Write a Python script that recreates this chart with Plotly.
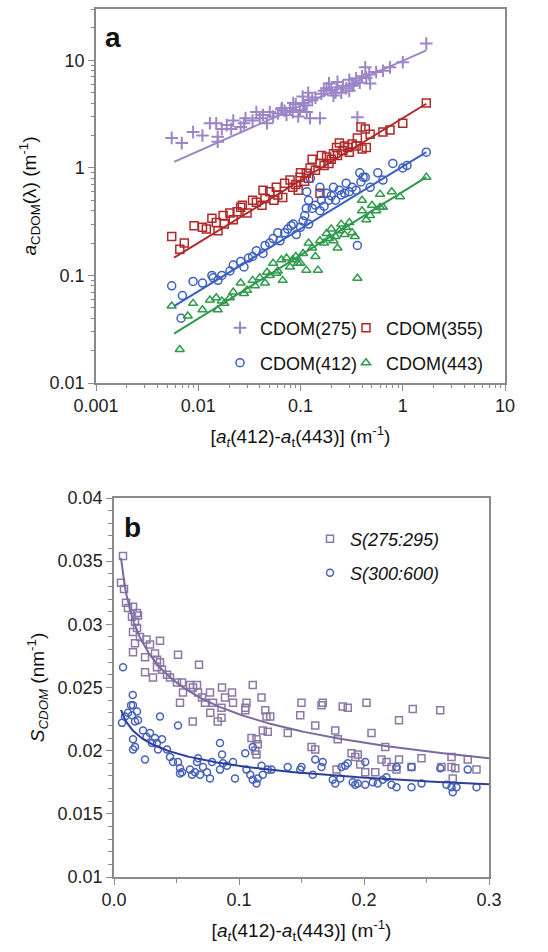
import numpy as np
import plotly.graph_objects as go

# ---------------- Panel a data (log-log) ----------------
a275_x = [0.0055, 0.0069, 0.0089, 0.011, 0.013, 0.015, 0.0155, 0.0155, 0.017, 0.019, 0.021, 0.022, 0.026, 0.028,
          0.029, 0.034, 0.037, 0.04, 0.043, 0.047, 0.05, 0.054, 0.06, 0.065, 0.066, 0.07, 0.073, 0.079, 0.084, 0.085,
          0.09, 0.095, 0.099, 0.105, 0.106, 0.11, 0.115, 0.119, 0.12, 0.124, 0.13, 0.14, 0.155, 0.16, 0.17, 0.18,
          0.19, 0.2, 0.21, 0.22, 0.225, 0.23, 0.25, 0.26, 0.28, 0.3, 0.3, 0.32, 0.33, 0.35, 0.36, 0.38, 0.4, 0.43,
          0.44, 0.47, 0.48, 0.55, 0.64, 0.75, 1.0, 1.7]
a275_y = [1.9, 1.7, 2.15, 2.0, 2.6, 2.6, 1.95, 1.75, 2.3, 2.5, 2.3, 2.75, 2.4, 2.6, 2.9, 2.75, 3.3, 2.9, 3.1, 2.6,
          3.3, 3.0, 3.2, 3.5, 3.6, 3.4, 3.1, 3.6, 3.3, 4.0, 3.9, 3.0, 3.45, 4.6, 4.0, 3.8, 3.3, 5.0, 4.3, 2.9, 4.25,
          4.5, 2.9, 4.9, 5.2, 5.5, 6.1, 5.3, 4.7, 5.0, 5.6, 6.3, 5.0, 5.8, 5.5, 6.6, 5.2, 5.8, 6.0, 6.8, 2.95, 6.2,
          7.1, 8.6, 6.9, 7.4, 6.1, 7.8, 8.0, 8.6, 9.6, 14.3]

a355_x = [0.0055, 0.0066, 0.0073, 0.0091, 0.011, 0.012, 0.0136, 0.015, 0.0156, 0.0175, 0.018, 0.0204, 0.022,
          0.024, 0.026, 0.027, 0.030, 0.034, 0.037, 0.042, 0.043, 0.045, 0.05, 0.055, 0.058, 0.06, 0.067, 0.07,
          0.079, 0.084, 0.09, 0.095, 0.099, 0.1, 0.11, 0.114, 0.12, 0.124, 0.13, 0.14, 0.155, 0.155, 0.16, 0.17,
          0.18, 0.19, 0.2, 0.21, 0.225, 0.23, 0.24, 0.26, 0.27, 0.29, 0.3, 0.32, 0.35, 0.36, 0.39, 0.4, 0.43, 0.44,
          0.48, 0.64, 0.75, 1.0, 1.7]
a355_y = [0.23, 0.175, 0.2, 0.29, 0.28, 0.27, 0.34, 0.31, 0.26, 0.36, 0.3, 0.38, 0.33, 0.39, 0.43, 0.45, 0.38,
          0.5, 0.48, 0.45, 0.62, 0.52, 0.6, 0.5, 0.66, 0.56, 0.53, 0.72, 0.77, 0.66, 0.7, 0.62, 0.82, 0.9, 0.75,
          0.89, 0.8, 1.0, 1.2, 0.95, 0.58, 1.1, 1.3, 1.05, 1.26, 1.1, 1.2, 1.35, 1.55, 1.3, 1.7, 1.45, 1.6, 1.55,
          1.4, 1.67, 1.6, 1.9, 2.4, 1.5, 2.3, 1.55, 2.05, 2.15, 2.25, 2.6, 4.0]

a412_x = [0.0055, 0.0068, 0.007, 0.0089, 0.011, 0.0136, 0.014, 0.0156, 0.017, 0.0204, 0.022, 0.026, 0.028, 0.031,
          0.034, 0.037, 0.043, 0.045, 0.05, 0.054, 0.06, 0.063, 0.07, 0.075, 0.081, 0.085, 0.091, 0.1, 0.106, 0.11,
          0.114, 0.115, 0.12, 0.12, 0.125, 0.13, 0.14, 0.155, 0.155, 0.16, 0.17, 0.18, 0.19, 0.2, 0.21, 0.22, 0.24,
          0.25, 0.27, 0.28, 0.3, 0.32, 0.35, 0.36, 0.38, 0.39, 0.41, 0.43, 0.48, 0.57, 0.64, 0.8, 1.0, 1.1, 1.7]
a412_y = [0.08, 0.04, 0.065, 0.088, 0.085, 0.1, 0.095, 0.09, 0.1, 0.11, 0.125, 0.135, 0.12, 0.145, 0.15, 0.17,
          0.16, 0.19, 0.2, 0.22, 0.25, 0.21, 0.25, 0.27, 0.29, 0.3, 0.24, 0.28, 0.32, 0.36, 0.42, 0.6, 0.3, 0.5,
          0.8, 0.42, 0.45, 0.4, 0.66, 0.5, 0.44, 0.58, 0.5, 0.55, 0.66, 0.5, 0.62, 0.56, 0.58, 0.72, 0.6, 0.66,
          0.62, 0.19, 0.9, 0.74, 0.82, 0.82, 0.66, 0.9, 0.77, 1.1, 1.0, 1.05, 1.4]

a443_x = [0.0055, 0.0066, 0.0079, 0.0089, 0.011, 0.013, 0.015, 0.0155, 0.017, 0.018, 0.0204, 0.022, 0.026, 0.028,
          0.03, 0.034, 0.036, 0.04, 0.045, 0.047, 0.05, 0.054, 0.058, 0.06, 0.065, 0.067, 0.073, 0.079, 0.084, 0.09,
          0.094, 0.1, 0.106, 0.114, 0.12, 0.13, 0.14, 0.148, 0.155, 0.17, 0.18, 0.19, 0.2, 0.21, 0.22, 0.23, 0.24,
          0.25, 0.27, 0.28, 0.3, 0.32, 0.34, 0.36, 0.4, 0.4, 0.44, 0.48, 0.5, 0.55, 0.6, 0.6, 0.64, 0.78, 0.94, 1.7]
a443_y = [0.052, 0.0205, 0.042, 0.055, 0.048, 0.059, 0.062, 0.048, 0.058, 0.055, 0.062, 0.07, 0.085, 0.068, 0.073,
          0.09, 0.08, 0.095, 0.085, 0.107, 0.1, 0.13, 0.105, 0.11, 0.14, 0.09, 0.145, 0.12, 0.14, 0.15, 0.13, 0.13,
          0.16, 0.112, 0.2, 0.18, 0.15, 0.112, 0.21, 0.2, 0.245, 0.22, 0.27, 0.21, 0.23, 0.18, 0.26, 0.3, 0.24,
          0.28, 0.31, 0.25, 0.23, 0.094, 0.4, 0.5, 0.33, 0.36, 0.45, 0.4, 0.43, 0.57, 0.43, 0.6, 0.54, 0.82]

# power-law fits y = c * x^k (panel a)
a_fit_names = ["CDOM(275)", "CDOM(355)", "CDOM(412)", "CDOM(443)"]
a_fit_coef = [9.9, 2.9, 1.03, 0.6]
a_fit_exp = [0.42, 0.58, 0.58, 0.59]
a_fit_xrange = [0.0058, 1.7]

# ---------------- Panel b data (linear) ----------------
s275_x = [0.0072, 0.0056, 0.008, 0.0096, 0.0112, 0.0144, 0.0152, 0.0168, 0.0184, 0.0152, 0.0168, 0.0152, 0.0192,
          0.0184, 0.0208, 0.026, 0.0288, 0.0368, 0.0248, 0.0248, 0.0328, 0.0344, 0.0312, 0.0368, 0.0384, 0.0344,
          0.0424, 0.0448, 0.0512, 0.0504, 0.0544, 0.0528, 0.0552, 0.0608, 0.0632, 0.0664, 0.0672, 0.068, 0.0704,
          0.0728, 0.0768, 0.0792, 0.0864, 0.0888, 0.0944, 0.0952, 0.105, 0.106, 0.111, 0.118, 0.150, 0.167, 0.166,
          0.183, 0.187, 0.202, 0.239, 0.261,
          0.086, 0.083, 0.086, 0.063, 0.077, 0.105, 0.110, 0.114, 0.115, 0.114, 0.113, 0.121, 0.122, 0.125, 0.119,
          0.123, 0.139, 0.149, 0.161, 0.158, 0.161, 0.177, 0.179, 0.178, 0.19, 0.193, 0.195, 0.197, 0.201, 0.206,
          0.209, 0.214, 0.217, 0.218, 0.222, 0.228, 0.228, 0.226, 0.238, 0.246, 0.262, 0.270, 0.270, 0.271, 0.273,
          0.283, 0.290]
s275_y = [0.0354, 0.0333, 0.0328, 0.0317, 0.0313, 0.0306, 0.0314, 0.0302, 0.0309, 0.0294, 0.0285, 0.0278, 0.0307,
          0.0297, 0.029, 0.0288, 0.0284, 0.0287, 0.0274, 0.0262, 0.0277, 0.0266, 0.0258, 0.027, 0.0264, 0.0272,
          0.026, 0.0258, 0.0276, 0.0254, 0.0254, 0.0238, 0.0246, 0.0252, 0.025, 0.0252, 0.0246, 0.0268, 0.0242,
          0.0238, 0.0246, 0.0238, 0.025, 0.0242, 0.0246, 0.0238, 0.0234, 0.0238, 0.0252, 0.0242, 0.0238, 0.0238,
          0.0236, 0.0235, 0.0234, 0.0238, 0.0233, 0.0232,
          0.0234, 0.0223, 0.0226, 0.0223, 0.023, 0.0232, 0.021, 0.0209, 0.0205, 0.0197, 0.02, 0.0232, 0.0227,
          0.0227, 0.0216, 0.0215, 0.0214, 0.0228, 0.022, 0.0203, 0.0201, 0.0216, 0.0209, 0.0185, 0.0198, 0.0195,
          0.0197, 0.0189, 0.0183, 0.0214, 0.0183, 0.0193, 0.0203, 0.0191, 0.0187, 0.0224, 0.0193, 0.0185, 0.0187,
          0.0194, 0.0187, 0.0195, 0.0187, 0.0178, 0.0186, 0.0193, 0.0185]

s300_x = [0.0072, 0.015, 0.0136, 0.0064, 0.0088, 0.0112, 0.0152, 0.0144, 0.0168, 0.0152, 0.0168, 0.0152, 0.0184,
          0.0192, 0.0248, 0.0232, 0.026, 0.0288, 0.0304, 0.0328, 0.0344, 0.0368, 0.0352, 0.0384, 0.0424, 0.0448,
          0.0472, 0.0512, 0.0512, 0.0528, 0.0544, 0.0528, 0.0608, 0.0624, 0.0648, 0.0664, 0.0672, 0.0688, 0.0712,
          0.0744, 0.0768, 0.0784, 0.0848, 0.0864, 0.0848, 0.0872, 0.0904, 0.0952, 0.0968, 0.105, 0.106, 0.109,
          0.111, 0.111, 0.114, 0.115, 0.118, 0.119, 0.123, 0.126, 0.139, 0.149, 0.150, 0.159, 0.161, 0.166, 0.167,
          0.175, 0.177, 0.181, 0.182, 0.185, 0.187, 0.191, 0.193, 0.195, 0.201, 0.201, 0.207, 0.211, 0.215, 0.218,
          0.222, 0.226, 0.226, 0.238, 0.238, 0.246, 0.261, 0.266, 0.270, 0.271, 0.274, 0.283, 0.290]
s300_y = [0.0266, 0.0244, 0.0236, 0.0222, 0.0227, 0.023, 0.0236, 0.0228, 0.0223, 0.0209, 0.0203, 0.0201, 0.0231,
          0.0224, 0.0193, 0.0216, 0.0211, 0.0214, 0.0206, 0.021, 0.0206, 0.0227, 0.0201, 0.0209, 0.0201, 0.0195,
          0.0191, 0.022, 0.0191, 0.0186, 0.0183, 0.0182, 0.0185, 0.0181, 0.0183, 0.0191, 0.0194, 0.0181, 0.0187,
          0.0183, 0.0178, 0.0191, 0.0206, 0.0197, 0.0185, 0.019, 0.0188, 0.0191, 0.0178, 0.0198, 0.0185, 0.0181,
          0.0203, 0.0177, 0.0174, 0.0178, 0.0188, 0.0181, 0.0185, 0.0185, 0.0187, 0.0185, 0.0187, 0.0181, 0.0193,
          0.0187, 0.0191, 0.0177, 0.0174, 0.0178, 0.0187, 0.0188, 0.019, 0.0175, 0.0173, 0.0174, 0.0191, 0.0173,
          0.0175, 0.0174, 0.0177, 0.0179, 0.0173, 0.0171, 0.0187, 0.0187, 0.0171, 0.0174, 0.0186, 0.0173, 0.0171,
          0.0167, 0.0171, 0.0185, 0.0171]

# power-law fits (panel b)
b_fit_names = ["<i>S(275:295)</i>", "<i>S(300:600)</i>"]
b_fit_coef = [0.0162, 0.01587]
b_fit_exp = [-0.150, -0.0735]
b_fit_xrange = [0.0056, 0.3]

# tick labels
a_ticks = [0.001, 0.01, 0.1, 1, 10]
a_ticktext = ["0.001", "0.01", "0.1", "1", "10"]
a_yticks = [0.01, 0.1, 1, 10]
a_yticktext = ["0.01", "0.1", "1", "10"]
b_xticks = [0.0, 0.1, 0.2, 0.3]
b_xticktext = ["0.0", "0.1", "0.2", "0.3"]
b_yticks = [0.01, 0.015, 0.02, 0.025, 0.03, 0.035, 0.04]
b_yticktext = ["0.01", "0.015", "0.02", "0.025", "0.03", "0.035", "0.04"]

# ---------------- styling ----------------
FONT = "Arial, Liberation Sans, sans-serif"
W, H = 548, 952
col_a = ["#9c86c8", "#b02828", "#3d60c0", "#2e9a4c"]
sym_a = ["cross-thin-open", "square-open", "circle-open", "triangle-up-open"]
size_a = [9, 8, 8, 8]
col_b_mk = ["#8b7aa6", "#4762ba"]
col_b_ln = ["#7b69a0", "#2c3f9c"]

fig = go.Figure()

series_a = [(a275_x, a275_y), (a355_x, a355_y), (a412_x, a412_y), (a443_x, a443_y)]
legends_a = ["legend", "legend2", "legend3", "legend4"]
for i, (xs, ys) in enumerate(series_a):
    fig.add_trace(go.Scatter(
        x=xs, y=ys, mode="markers", name=a_fit_names[i], legend=legends_a[i],
        marker=dict(symbol=sym_a[i], size=size_a[i], color=col_a[i],
                    line=dict(color=col_a[i], width=2 if i == 0 else 1.5)),
        xaxis="x", yaxis="y"))
for i in range(4):
    fx = np.logspace(np.log10(a_fit_xrange[0]), np.log10(a_fit_xrange[1]), 60)
    fig.add_trace(go.Scatter(
        x=fx, y=a_fit_coef[i] * fx ** a_fit_exp[i], mode="lines", showlegend=False,
        line=dict(color=col_a[i], width=2), xaxis="x", yaxis="y", hoverinfo="skip"))

series_b = [(s275_x, s275_y), (s300_x, s300_y)]
sym_b = ["square-open", "circle-open"]
legends_b = ["legend5", "legend6"]
for i, (xs, ys) in enumerate(series_b):
    fig.add_trace(go.Scatter(
        x=xs, y=ys, mode="markers", name=b_fit_names[i], legend=legends_b[i],
        marker=dict(symbol=sym_b[i], size=7, color=col_b_mk[i], line=dict(color=col_b_mk[i], width=1.5)),
        xaxis="x2", yaxis="y2"))
for i in range(2):
    fx = np.linspace(b_fit_xrange[0], b_fit_xrange[1], 200)
    fig.add_trace(go.Scatter(
        x=fx, y=b_fit_coef[i] * fx ** b_fit_exp[i], mode="lines", showlegend=False,
        line=dict(color=col_b_ln[i], width=2), xaxis="x2", yaxis="y2", hoverinfo="skip"))

axis_common = dict(showline=True, mirror=True, linecolor="#8a8a8a", linewidth=1.5, showgrid=False,
                   zeroline=False, ticks="outside", ticklen=6, tickcolor="#8a8a8a", tickwidth=1.2,
                   automargin=False, tickfont=dict(family=FONT, size=18, color="#222"))
xtitle = "[<i>a<sub>t</sub></i>(412)-<i>a</i><sub>t</sub>(443)] (m<sup>-1</sup>)"


def leg(x, y):
    return dict(orientation="h", x=x / W, y=1 - y / H, xanchor="left", yanchor="middle",
                itemwidth=30, bgcolor="rgba(0,0,0,0)", font=dict(size=18, color="#111"))


fig.update_layout(
    template="none",
    width=W, height=H, autosize=False,
    margin=dict(l=0, r=0, t=0, b=0, pad=0),
    paper_bgcolor="white", plot_bgcolor="white",
    font=dict(family=FONT, size=18, color="#111"),
    xaxis=dict(**axis_common, type="log", range=[-3, 1], domain=[96 / W, 505 / W], anchor="y",
               tickmode="array", tickvals=a_ticks, ticktext=a_ticktext,
               minor=dict(ticks="outside", ticklen=3, dtick="D1", tickcolor="#8a8a8a", showgrid=False),
               title=dict(text=xtitle, font=dict(size=19), standoff=14)),
    yaxis=dict(**axis_common, type="log", range=[-2, np.log10(30)], domain=[1 - 383 / H, 1 - 9 / H],
               anchor="x", tickmode="array", tickvals=a_yticks, ticktext=a_yticktext,
               minor=dict(ticks="outside", ticklen=3, dtick="D1", tickcolor="#8a8a8a", showgrid=False),
               title=dict(text="<i>a</i><sub>CDOM</sub>(λ) (m<sup>-1</sup>)", font=dict(size=19), standoff=8)),
    xaxis2=dict(**axis_common, range=[0, 0.3], domain=[114 / W, 489 / W], anchor="y2",
                tickmode="array", tickvals=b_xticks, ticktext=b_xticktext,
                minor=dict(ticks="outside", ticklen=4, dtick=0.05, tickcolor="#8a8a8a", showgrid=False),
                title=dict(text=xtitle, font=dict(size=19), standoff=14)),
    yaxis2=dict(**axis_common, range=[0.01, 0.04], domain=[1 - 877 / H, 1 - 498 / H], anchor="x2",
                tickmode="array", tickvals=b_yticks, ticktext=b_yticktext,
                minor=dict(ticks="outside", ticklen=4, dtick=0.001, tickcolor="#8a8a8a", showgrid=False),
                title=dict(text="<i>S<sub>CDOM</sub></i> (nm<sup>-1</sup>)", font=dict(size=19), standoff=8)),
    legend=leg(220, 328), legend2=leg(346, 328), legend3=leg(220, 363), legend4=leg(346, 363),
    legend5=leg(310, 539), legend6=leg(310, 573),
    annotations=[
        dict(text="<b>a</b>", x=103 / W, y=1 - 20 / H, xref="paper", yref="paper", xanchor="left",
             yanchor="top", showarrow=False, font=dict(size=28, color="#111")),
        dict(text="<b>b</b>", x=122 / W, y=1 - 510 / H, xref="paper", yref="paper", xanchor="left",
             yanchor="top", showarrow=False, font=dict(size=28, color="#111")),
    ],
)

fig.write_html("out.html", config={"displayModeBar": False},
               post_script="document.body.style.margin='0';document.body.style.overflow='hidden';")
